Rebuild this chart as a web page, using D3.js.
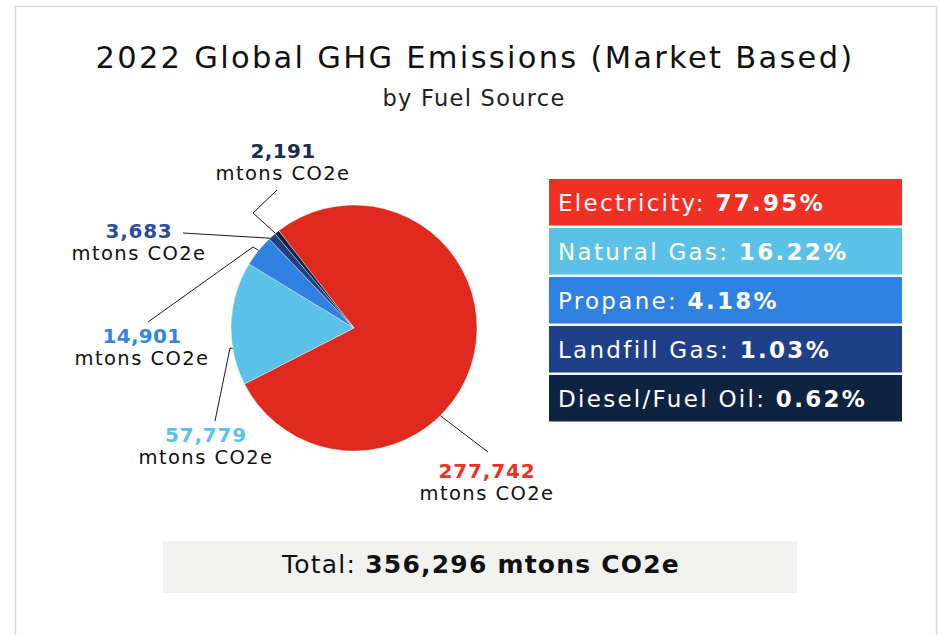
<!DOCTYPE html>
<html>
<head>
<meta charset="utf-8">
<script src="https://cdn.jsdelivr.net/npm/d3@7"></script>
<style>
  html, body { margin: 0; padding: 0; background: #ffffff; }
  svg { display: block; font-family: "DejaVu Sans", "Liberation Sans", sans-serif; }
</style>
</head>
<body>
<svg id="chart" width="940" height="635"></svg>
<script>
// ---------------- data ----------------
const categories = ["Electricity", "Natural Gas", "Propane", "Landfill Gas", "Diesel/Fuel Oil"];
const values = [277742, 57779, 14901, 3683, 2191];
const percentLabels = ["77.95%", "16.22%", "4.18%", "1.03%", "0.62%"];
const valueLabels = ["277,742", "57,779", "14,901", "3,683", "2,191"];
const unitLabel = "mtons CO2e";
const titleText = "2022 Global GHG Emissions (Market Based)";
const subtitleText = "by Fuel Source";
const totalLabel = "Total: ";
const totalValueLabel = "356,296 mtons CO2e";

// ---------------- styles ----------------
const pieColors = ["#df281e", "#5bc1e7", "#2f80e0", "#1f4089", "#0e2340"];
const legendColors = ["#ee3124", "#5bc1e7", "#2f80e0", "#1f4089", "#0e2340"];
const labelColors = ["#ee3124", "#5bc1e7", "#3385e0", "#2b4e9a", "#1b2c4f"];

const W = 940, H = 635;
const svg = d3.select("#chart");

// letter-spacing fit helper
function fit(sel, target) {
  const node = sel.node();
  const w = node.getComputedTextLength();
  const n = node.textContent.length;
  const ls = (target - w) / n;
  sel.attr("letter-spacing", ls);
  return ls;
}

// card
svg.append("rect")
  .attr("x", 15.5).attr("y", 6.5)
  .attr("width", 921).attr("height", 660)
  .attr("fill", "#ffffff")
  .attr("stroke", "#d9d9d3").attr("stroke-width", 1.5);

// title
const title = svg.append("text")
  .attr("x", 475).attr("y", 68)
  .attr("text-anchor", "middle")
  .attr("font-size", 30.5).attr("fill", "#111")
  .text(titleText);
fit(title, 759);

const sub = svg.append("text")
  .attr("x", 474).attr("y", 106)
  .attr("text-anchor", "middle")
  .attr("font-size", 22.5).attr("fill", "#222")
  .text(subtitleText);
fit(sub, 183);

// ---------------- pie ----------------
const cx = 354, cy = 328, R = 123;
const startDeg = -37.7;
const a0 = startDeg * Math.PI / 180;
const pie = d3.pie().sort(null).startAngle(a0).endAngle(a0 + 2 * Math.PI);
const arcs = pie(values);
const arc = d3.arc().innerRadius(0).outerRadius(R);

const gPie = svg.append("g").attr("transform", `translate(${cx},${cy})`);
gPie.selectAll("path.slice")
  .data(arcs)
  .enter().append("path")
  .attr("class", "slice")
  .attr("d", arc)
  .attr("fill", (d, i) => pieColors[i])
  .attr("stroke", "#ffffff").attr("stroke-width", 0.4);

// label layout (positions of text and leader elbows)
const labelLayout = [
  { t: 0.617, x: 487, y: 478, pts: [[488, 452]] },
  { t: 0.30,  x: 206, y: 442, pts: [[230, 348], [215, 421]] },
  { t: 0.52,  x: 142, y: 343, pts: [[253, 247], [148, 322]] },
  { t: 0.14,  x: 139, y: 238, pts: [[183, 233]] },
  { t: 0.10,  x: 283, y: 158, pts: [[253, 213], [277, 190]] }
];

const line = d3.line();
arcs.forEach((d, i) => {
  const L = labelLayout[i];
  const a = d.startAngle + L.t * (d.endAngle - d.startAngle);
  const edge = [cx + R * Math.sin(a), cy - R * Math.cos(a)];
  svg.append("path")
    .attr("d", line([edge, ...L.pts]))
    .attr("fill", "none")
    .attr("stroke", "#1a1a1a").attr("stroke-width", 1);
});

const numTargets = [97, 82, 79, 67, 65];
let unitLs = null;
arcs.forEach((d, i) => {
  const L = labelLayout[i];
  const num = svg.append("text")
    .attr("x", L.x).attr("y", L.y)
    .attr("text-anchor", "middle")
    .attr("font-size", 20).attr("font-weight", "bold")
    .attr("fill", labelColors[i])
    .text(valueLabels[i]);
  fit(num, numTargets[i]);
  const unit = svg.append("text")
    .attr("x", L.x).attr("y", L.y + 21.5)
    .attr("text-anchor", "middle")
    .attr("font-size", 19.5).attr("fill", "#111")
    .text(unitLabel);
  if (unitLs === null) unitLs = fit(unit, 135);
  else unit.attr("letter-spacing", unitLs);
});

// ---------------- legend ----------------
const yLeg = d3.scaleBand()
  .domain(categories)
  .range([179, 179 + 5 * 48.5])
  .paddingInner(0.05)
  .paddingOuter(0);
const legX = 549, legW = 353;

const legRows = svg.append("g").selectAll("g")
  .data(categories)
  .enter().append("g");

legRows.append("rect")
  .attr("x", legX)
  .attr("y", d => yLeg(d))
  .attr("width", legW)
  .attr("height", yLeg.bandwidth())
  .attr("fill", (d, i) => legendColors[i]);

let legLs = null;
legRows.each(function (d, i) {
  const t = d3.select(this).append("text")
    .attr("x", legX + 9)
    .attr("y", yLeg(d) + yLeg.bandwidth() / 2 + 8.5)
    .attr("font-size", 23)
    .attr("fill", "#ffffff");
  t.append("tspan").text(d + ": ");
  t.append("tspan").attr("font-weight", "bold").text(percentLabels[i]);
  if (legLs === null) legLs = fit(t, 267);
  else t.attr("letter-spacing", legLs);
});

// ---------------- total box ----------------
svg.append("rect")
  .attr("x", 163).attr("y", 541)
  .attr("width", 634).attr("height", 52)
  .attr("fill", "#f1f1ef");

const tot = svg.append("text")
  .attr("x", 481).attr("y", 573)
  .attr("text-anchor", "middle")
  .attr("font-size", 25).attr("fill", "#111");
tot.append("tspan").text(totalLabel);
tot.append("tspan").attr("font-weight", "bold").text(totalValueLabel);
fit(tot, 398);
</script>
</body>
</html>
